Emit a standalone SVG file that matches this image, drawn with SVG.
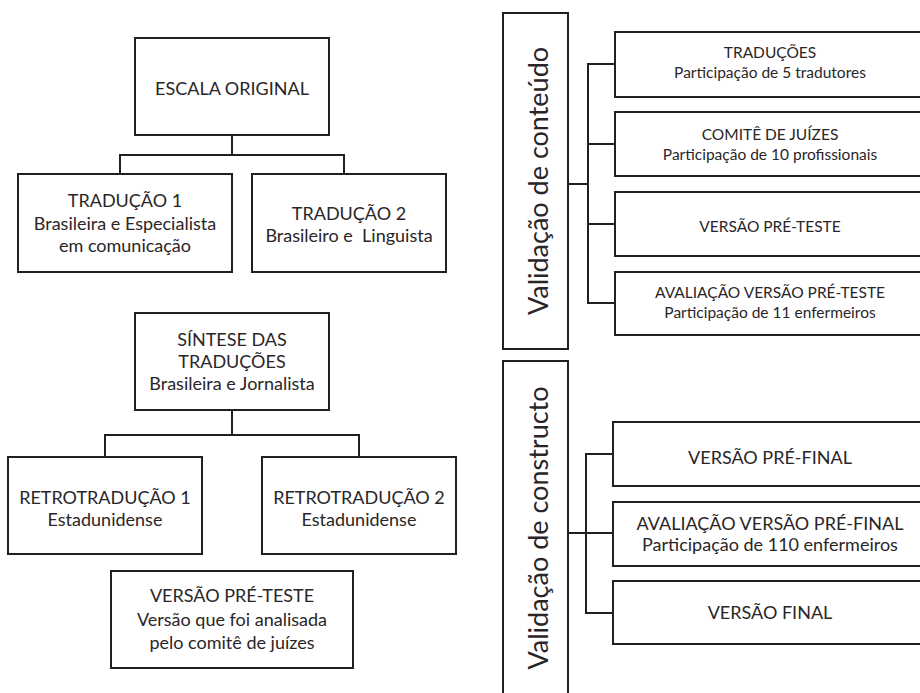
<svg xmlns="http://www.w3.org/2000/svg" width="920" height="693" viewBox="0 0 920 693">
<style>
.box{fill:#fff;stroke:#231f20;stroke-width:2}
.ln{fill:none;stroke:#231f20;stroke-width:2}
text{font-family:Lato,"Noto Sans",sans-serif;fill:#2a2627;text-anchor:middle;dominant-baseline:central}
.t{font-size:18px}
.s{font-size:15.5px}
.v{font-size:27px}
</style>
<rect width="920" height="693" fill="#fff"/>
<g id="connectors">
<path class="ln" d="M232,135V155M120,175V155H344V175"/>
<path class="ln" d="M232,410V435M105,457V435H359V457"/>
<path class="ln" d="M568,184H588M615,64H588V303H615M588,144H615M588,224H615"/>
<path class="ln" d="M568,533H613M613,454H586V613H613"/>
</g>
<g id="escala"><rect class="box" x="135" y="38" width="194" height="97"/><text class="t" x="232" y="88">ESCALA ORIGINAL</text></g>
<g id="traducao1"><rect class="box" x="18" y="174" width="214" height="98"/><text class="t" x="125" y="200">TRADUÇÃO 1</text><text class="t" x="125" y="223">Brasileira e Especialista</text><text class="t" x="125" y="245">em comunicação</text></g>
<g id="traducao2"><rect class="box" x="252" y="174" width="194" height="98"/><text class="t" x="349" y="213">TRADUÇÃO 2</text><text class="t" x="349" y="235" xml:space="preserve">Brasileiro e  Linguista</text></g>
<g id="sintese"><rect class="box" x="135" y="313" width="194" height="97"/><text class="t" x="232" y="339">SÍNTESE DAS</text><text class="t" x="232" y="361">TRADUÇÕES</text><text class="t" x="232" y="383">Brasileira e Jornalista</text></g>
<g id="retro1"><rect class="box" x="8" y="457" width="194" height="97"/><text class="t" x="105" y="497">RETROTRADUÇÃO 1</text><text class="t" x="105" y="519">Estadunidense</text></g>
<g id="retro2"><rect class="box" x="262" y="457" width="194" height="97"/><text class="t" x="359" y="497">RETROTRADUÇÃO 2</text><text class="t" x="359" y="519">Estadunidense</text></g>
<g id="versaopreteste"><rect class="box" x="111" y="571" width="242" height="97"/><text class="t" x="232" y="595">VERSÃO PRÉ-TESTE</text><text class="t" x="232" y="619">Versão que foi analisada</text><text class="t" x="232" y="642">pelo comitê de juízes</text></g>
<g id="val-conteudo"><rect class="box" x="503" y="13" width="65" height="336"/><text class="v" transform="translate(537,181) rotate(-90)">Validação de conteúdo</text></g>
<g id="traducoes"><rect class="box" x="615" y="32" width="315" height="65"/><text class="s" x="770" y="52">TRADUÇÕES</text><text class="s" x="770" y="72">Participação de 5 tradutores</text></g>
<g id="comite"><rect class="box" x="615" y="112" width="315" height="64"/><text class="s" x="770" y="134">COMITÊ DE JUÍZES</text><text class="s" x="770" y="154">Participação de 10 profissionais</text></g>
<g id="preteste"><rect class="box" x="615" y="192" width="315" height="64"/><text class="s" x="770" y="226">VERSÃO PRÉ-TESTE</text></g>
<g id="avaliacao-preteste"><rect class="box" x="615" y="272" width="315" height="63"/><text class="s" x="770" y="292">AVALIAÇÃO VERSÃO PRÉ-TESTE</text><text class="s" x="770" y="312">Participação de 11 enfermeiros</text></g>
<g id="val-constructo"><rect class="box" x="503" y="361" width="65" height="345"/><text class="v" transform="translate(537,528) rotate(-90)">Validação de constructo</text></g>
<g id="prefinal"><rect class="box" x="613" y="422" width="317" height="64"/><text class="t" x="770" y="457">VERSÃO PRÉ-FINAL</text></g>
<g id="avaliacao-prefinal"><rect class="box" x="613" y="502" width="317" height="64"/><text class="t" x="770" y="523">AVALIAÇÃO VERSÃO PRÉ-FINAL</text><text class="t" x="770" y="544">Participação de 110 enfermeiros</text></g>
<g id="final"><rect class="box" x="613" y="581" width="317" height="63"/><text class="t" x="770" y="612">VERSÃO FINAL</text></g>
</svg>
